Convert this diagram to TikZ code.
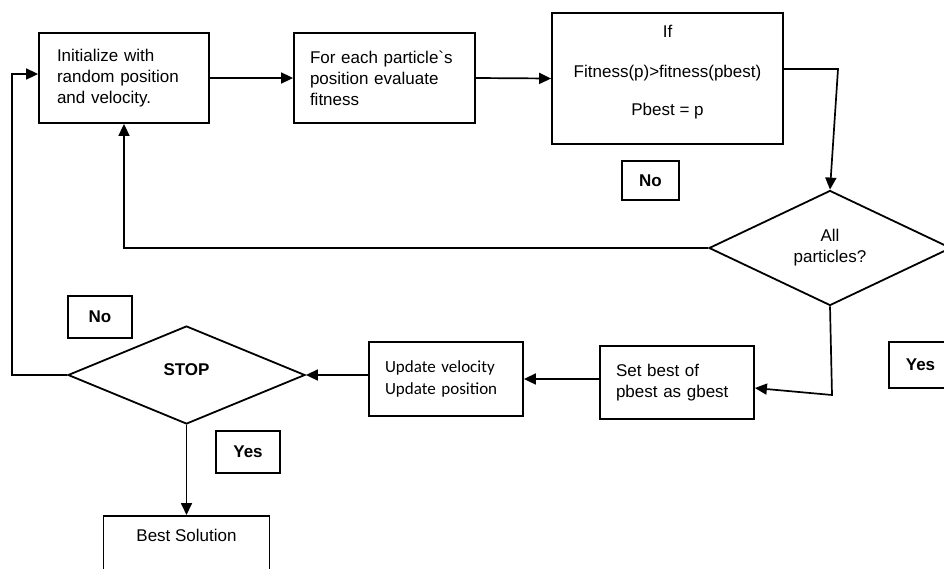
\documentclass[tikz,border=0pt]{standalone}
\usepackage{fontspec}
\setmainfont{Liberation Sans}
\newfontfamily\calfont{Carlito}
\usetikzlibrary{arrows.meta,shapes.geometric}
\begin{document}
\begin{tikzpicture}[x=1pt,y=-1pt,
  every node/.style={font=\fontsize{17}{21}\selectfont},
  box/.style={draw, line width=1.8pt, rectangle, inner sep=0pt},
  lab/.style={draw, line width=1.8pt, rectangle, inner sep=0pt, font=\bfseries\fontsize{17}{21}\selectfont},
  dia/.style={draw, diamond, aspect=2, line width=1.8pt, inner sep=0pt},
  arr/.style={line width=1.7pt, -{Triangle[length=12pt,width=11pt]}}]
\useasboundingbox (0,0) rectangle (944,568);

\node[box, minimum width=170pt, minimum height=90pt, text width=134pt, align=left] (init) at (124,78) {Initialize with\\random position\\and velocity.};
\node[box, minimum width=181pt, minimum height=90pt, text width=149pt, align=left] (eval) at (384.5,78) {For each particle\textasciigrave s\\position evaluate\\fitness};
\node[box, minimum width=231pt, minimum height=131pt, align=center, text depth=16pt] (cond) at (667.5,78.5) {If\\[19pt]Fitness(p)>fitness(pbest)\\[17pt]Pbest = p};
\node[lab, minimum width=57pt, minimum height=39pt] (no1) at (650.5,180.5) {No};
\node[dia, minimum width=242pt, minimum height=115pt, align=center] (all) at (830,248) {All\\particles?};
\node[lab, minimum width=63pt, minimum height=46pt] (yes1) at (920.5,365) {Yes};
\node[box, minimum width=154pt, minimum height=73pt, text width=122pt, align=left] (set) at (677,382.5) {Set best of\\pbest as gbest};
\node[box, minimum width=154pt, minimum height=74pt, text width=122pt, align=left, font=\calfont\fontsize{17}{22}\selectfont] (upd) at (446,379) {Update velocity\\Update position};
\node[dia, minimum width=237pt, minimum height=98pt, text height=12pt, text depth=12pt, font=\bfseries\fontsize{17}{21}\selectfont] (stop) at (186.5,375) {STOP};
\node[lab, minimum width=64pt, minimum height=42pt] (no2) at (100,317) {No};
\node[lab, minimum width=64pt, minimum height=42pt] (yes2) at (248,452) {Yes};
\node[box, anchor=north, minimum width=166pt, text height=26pt, text depth=40pt] (best) at (186.5,515) {Best Solution};

\coordinate (c1) at (838,69);
\coordinate (c2) at (832,395);
\coordinate (c3) at (12,375);
\coordinate (c4) at (12,74);
\coordinate (c5) at (0,388);

\draw[arr] (stop.west) -- (c3) -- (c4) -- (c4 -| init.west);
\draw[arr] (init.east) -- (eval.west);
\draw[arr] (eval.east) -- (cond.west);
\draw[arr] (cond.east |- c1) -- (c1) -- (all.north);
\draw[arr] (all.west) -| (init.south);
\draw[arr] (all.south) -- (c2) -- (set.east |- c5);
\draw[arr] (upd.east -| set.west) -- (upd.east);
\draw[arr] (stop.east -| upd.west) -- (stop.east);
\draw[arr] (stop.south) -- (best.north);
\end{tikzpicture}
\end{document}
